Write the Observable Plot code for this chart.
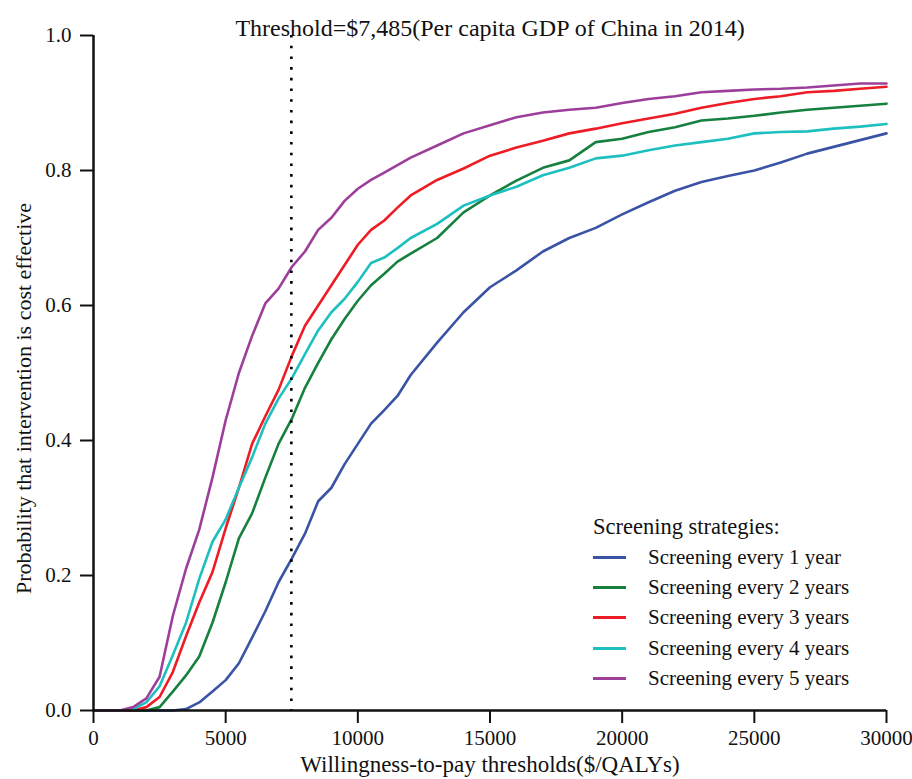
<!DOCTYPE html>
<html><head><meta charset="utf-8">
<script src="https://cdn.jsdelivr.net/npm/d3@7"></script>
<script src="https://cdn.jsdelivr.net/npm/@observablehq/plot@0.6"></script>
<style>
body{margin:0;background:#fff;}
#wrap{position:relative;width:912px;height:779px;font-family:"Liberation Serif",serif;color:#111;}
#legend{position:absolute;left:593px;top:512px;}
#legend .lt{font-size:22.5px;line-height:30px;height:30px;white-space:nowrap;}
#legend .row{display:flex;align-items:center;height:30.3px;font-size:21px;white-space:nowrap;}
#legend .sw{display:inline-block;width:33px;height:3px;margin-right:22px;}
</style></head><body><div id="wrap"></div>
<script>
// Willingness-to-pay grid ($/QALY)
const wtp = [0,500,1000,1500,2000,2500,3000,3500,4000,4500,5000,5500,6000,6500,7000,7500,8000,8500,9000,9500,10000,10500,11000,11500,12000,13000,14000,15000,16000,17000,18000,19000,20000,21000,22000,23000,24000,25000,26000,27000,28000,29000,30000];
// Probability cost-effective per strategy
const every1 = [0,0,0,0,0,0,0,0.002,0.012,0.028,0.045,0.07,0.108,0.147,0.19,0.225,0.262,0.31,0.33,0.365,0.395,0.425,0.445,0.466,0.497,0.545,0.59,0.627,0.652,0.68,0.70,0.715,0.735,0.753,0.77,0.783,0.792,0.80,0.812,0.825,0.835,0.845,0.855];
const every2 = [0,0,0,0,0,0.005,0.028,0.052,0.08,0.13,0.19,0.255,0.292,0.345,0.395,0.432,0.478,0.515,0.55,0.58,0.607,0.63,0.647,0.665,0.677,0.70,0.738,0.763,0.785,0.804,0.815,0.842,0.847,0.857,0.864,0.874,0.877,0.881,0.886,0.89,0.893,0.896,0.899];
const every3 = [0,0,0,0,0.005,0.02,0.057,0.11,0.16,0.205,0.27,0.33,0.395,0.436,0.475,0.525,0.57,0.60,0.63,0.66,0.69,0.712,0.726,0.745,0.763,0.786,0.803,0.822,0.834,0.844,0.855,0.862,0.870,0.877,0.884,0.893,0.90,0.906,0.91,0.916,0.918,0.921,0.924];
const every4 = [0,0,0,0.002,0.012,0.036,0.082,0.13,0.195,0.25,0.283,0.33,0.375,0.425,0.462,0.492,0.528,0.563,0.59,0.61,0.635,0.663,0.671,0.685,0.70,0.721,0.748,0.763,0.776,0.793,0.804,0.818,0.822,0.83,0.837,0.842,0.847,0.855,0.857,0.858,0.862,0.865,0.869];
const every5 = [0,0,0,0.005,0.018,0.05,0.14,0.21,0.268,0.345,0.43,0.50,0.555,0.603,0.625,0.657,0.68,0.712,0.73,0.755,0.773,0.786,0.797,0.808,0.819,0.837,0.855,0.867,0.879,0.886,0.89,0.893,0.90,0.906,0.91,0.916,0.918,0.92,0.921,0.923,0.926,0.929,0.929];

const seriesNames = ["Screening every 1 year","Screening every 2 years","Screening every 3 years","Screening every 4 years","Screening every 5 years"];
const seriesColors = ["#3a53a4","#16803f","#ee1c25","#1dbfbf","#9c3f9b"];
const seriesValues = [every1, every2, every3, every4, every5];

const threshold = 7485;
const xTicks = [0,5000,10000,15000,20000,25000,30000];
const yTicks = [0,0.2,0.4,0.6,0.8,1.0];
const titleText = "Threshold=$7,485(Per capita GDP of China in 2014)";
const xLabel = "Willingness-to-pay thresholds($/QALYs)";
const yLabel = "Probability that intervention is cost effective";
const legendTitle = "Screening strategies:";

const rows = [];
seriesNames.forEach((s, i) => wtp.forEach((w, j) => rows.push({series: s, wtp: w, p: seriesValues[i][j]})));

const chart = Plot.plot({
  width: 912, height: 779,
  marginTop: 35, marginLeft: 93, marginRight: 26, marginBottom: 69,
  style: {fontFamily: "Liberation Serif, serif", background: "white", color: "#111"},
  x: {domain: [0, 30000]},
  y: {domain: [0, 1]},
  color: {domain: seriesNames, range: seriesColors},
  marks: [
    Plot.line(rows, {x: "wtp", y: "p", z: "series", stroke: "series", strokeWidth: 2.6}),
    Plot.ruleX([threshold], {stroke: "#000", strokeWidth: 2.6, strokeDasharray: "2.6,8.1"}),
    Plot.axisX({ticks: xTicks, tickSize: 13, tickPadding: 7, tickFormat: "d", fontSize: 21, label: null, strokeWidth: 2}),
    Plot.axisY({ticks: yTicks, tickSize: 13, tickPadding: 9, tickFormat: ".1f", fontSize: 21, label: null, strokeWidth: 2}),
    Plot.ruleY([0], {strokeWidth: 2.5}),
    Plot.ruleX([0], {strokeWidth: 2.5}),
    Plot.text([titleText], {frameAnchor: "top", dy: -17, fontSize: 24}),
    Plot.text([xLabel], {frameAnchor: "bottom", dy: 61, fontSize: 23}),
    Plot.text([yLabel], {frameAnchor: "left", textAnchor: "middle", dx: -70, dy: 25.5, rotate: -90, fontSize: 22})
  ]
});
const wrap = document.getElementById("wrap");
wrap.appendChild(chart);

const legend = document.createElement("div");
legend.id = "legend";
const lt = document.createElement("div");
lt.className = "lt"; lt.textContent = legendTitle;
legend.appendChild(lt);
seriesNames.forEach((s, i) => {
  const row = document.createElement("div"); row.className = "row";
  const sw = document.createElement("span"); sw.className = "sw"; sw.style.background = seriesColors[i];
  const tx = document.createElement("span"); tx.textContent = s;
  row.appendChild(sw); row.appendChild(tx);
  legend.appendChild(row);
});
wrap.appendChild(legend);
</script>
</body></html>
